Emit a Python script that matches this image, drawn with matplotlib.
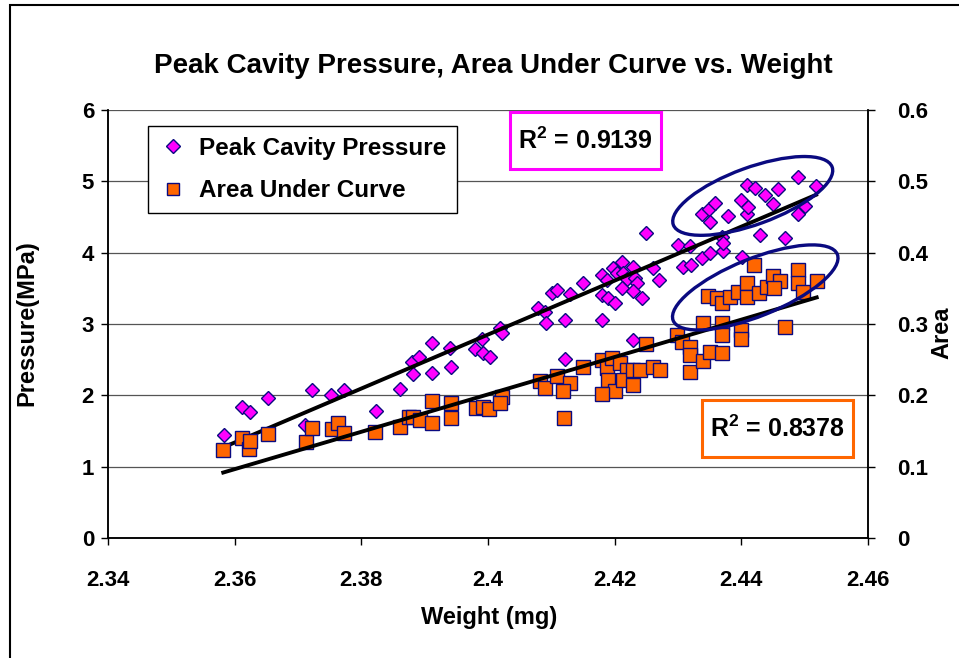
import matplotlib
matplotlib.use('Agg')
import matplotlib.pyplot as plt
import matplotlib.transforms as mtransforms
from matplotlib.patches import Ellipse, Rectangle
from matplotlib.lines import Line2D
import numpy as np

plt.rcParams['font.family'] = ['Liberation Sans', 'DejaVu Sans']
plt.rcParams['font.weight'] = 'bold'
plt.rcParams['mathtext.fontset'] = 'custom'
plt.rcParams['mathtext.bf'] = 'Liberation Sans:bold'
plt.rcParams['mathtext.rm'] = 'Liberation Sans:bold'

# Peak cavity pressure (MPa) vs weight (mg)
pressure_weight = [
    2.3583, 2.3612, 2.3624, 2.3653, 2.3711, 2.3722, 2.3752, 2.3773, 2.3823, 2.3861,
    2.3880, 2.3891, 2.3881, 2.3911, 2.3911, 2.3940, 2.3941, 2.3979, 2.3990, 2.3992,
    2.4003, 2.4019, 2.4022, 2.4079, 2.4090, 2.4091, 2.4101, 2.4109, 2.4121, 2.4121,
    2.4129, 2.4150, 2.4180, 2.4188, 2.4180, 2.4189, 2.4200, 2.4197, 2.4203, 2.4211,
    2.4213, 2.4219, 2.4211, 2.4229, 2.4232, 2.4235, 2.4229, 2.4243, 2.4180, 2.4229,
    2.4249, 2.4260, 2.4270, 2.4300, 2.4319, 2.4308, 2.4320, 2.4338, 2.4350, 2.4371,
    2.4369, 2.4371, 2.4401, 2.4429, 2.4469, 2.4338, 2.4349, 2.4358, 2.4350, 2.4379,
    2.4399, 2.4409, 2.4410, 2.4409, 2.4421, 2.4437, 2.4450, 2.4458, 2.4489, 2.4518,
    2.4500, 2.4489,
]
pressure = [
    1.44, 1.84, 1.77, 1.96, 1.58, 2.07, 2.00, 2.07, 1.78, 2.09,
    2.47, 2.54, 2.30, 2.73, 2.31, 2.66, 2.40, 2.65, 2.79, 2.59,
    2.54, 2.94, 2.87, 3.22, 3.17, 3.01, 3.43, 3.48, 3.06, 2.51,
    3.42, 3.57, 3.69, 3.62, 3.41, 3.37, 3.30, 3.79, 3.72, 3.87,
    3.72, 3.63, 3.50, 3.80, 3.65, 3.57, 3.46, 3.37, 3.06, 2.78,
    4.28, 3.79, 3.62, 4.11, 4.09, 3.80, 3.83, 3.93, 4.00, 4.02,
    4.22, 4.14, 3.94, 4.25, 4.21, 4.54, 4.61, 4.70, 4.43, 4.51,
    4.74, 4.54, 4.64, 4.95, 4.91, 4.81, 4.68, 4.89, 5.06, 4.94,
    4.65, 4.54,
]

# Area under curve vs weight (mg)
area_weight = [
    2.3582, 2.3612, 2.3623, 2.3624, 2.3653, 2.3713, 2.3722, 2.3754, 2.3763, 2.3773,
    2.3821, 2.3861, 2.3875, 2.3881, 2.3893, 2.3911, 2.3911, 2.3941, 2.3941, 2.3981,
    2.3992, 2.4001, 2.4022, 2.4019, 2.4082, 2.4090, 2.4109, 2.4129, 2.4118, 2.4120,
    2.4150, 2.4180, 2.4188, 2.4189, 2.4200, 2.4180, 2.4196, 2.4208, 2.4219, 2.4213,
    2.4229, 2.4229, 2.4240, 2.4260, 2.4271, 2.4249, 2.4298, 2.4306, 2.4319, 2.4319,
    2.4319, 2.4339, 2.4350, 2.4369, 2.4339, 2.4369, 2.4369, 2.4399, 2.4399, 2.4469,
    2.4420, 2.4347, 2.4361, 2.4369, 2.4382, 2.4394, 2.4409, 2.4409, 2.4428, 2.4440,
    2.4450, 2.4461, 2.4451, 2.4489, 2.4489, 2.4497, 2.4519,
]
area = [
    0.123, 0.140, 0.125, 0.136, 0.146, 0.135, 0.154, 0.153, 0.161, 0.147,
    0.149, 0.156, 0.170, 0.170, 0.165, 0.192, 0.161, 0.189, 0.168, 0.182,
    0.184, 0.181, 0.198, 0.189, 0.220, 0.210, 0.227, 0.217, 0.206, 0.168,
    0.240, 0.250, 0.238, 0.222, 0.206, 0.202, 0.252, 0.245, 0.236, 0.222,
    0.215, 0.236, 0.236, 0.240, 0.236, 0.272, 0.285, 0.275, 0.268, 0.257,
    0.233, 0.248, 0.261, 0.259, 0.301, 0.301, 0.285, 0.292, 0.279, 0.296,
    0.383, 0.339, 0.337, 0.330, 0.338, 0.345, 0.358, 0.338, 0.344, 0.352,
    0.367, 0.360, 0.351, 0.376, 0.358, 0.345, 0.360,
]

x_ticks = [2.34, 2.36, 2.38, 2.4, 2.42, 2.44, 2.46]
x_tick_labels = ['2.34', '2.36', '2.38', '2.4', '2.42', '2.44', '2.46']
p_ticks = [0, 1, 2, 3, 4, 5, 6]
a_ticks = [0, 0.1, 0.2, 0.3, 0.4, 0.5, 0.6]
a_tick_labels = ['0', '0.1', '0.2', '0.3', '0.4', '0.5', '0.6']
r2_pressure = '0.9139'
r2_area = '0.8378'

MAGENTA = '#FF00FF'
ORANGE = '#FF6600'
NAVY = '#0A0A80'

fig = plt.figure(figsize=(9.59, 6.58), dpi=100)
ax = fig.add_axes([0.1126, 0.1824, 0.7925, 0.6505])
ax2 = ax.twinx()

# --- pressure series + linear trend ---
ax.plot(pressure_weight, pressure, linestyle='none', marker='D', ms=7.6,
        mfc=MAGENTA, mec=NAVY, mew=1.0, zorder=3)
pw = np.array(pressure_weight)
k, b = np.polyfit(pw, pressure, 1)
xs = np.array([pw.min(), pw.max()])
ax.plot(xs, k * xs + b, color='black', lw=2.8, zorder=4)

# --- area series + linear trend (secondary axis) ---
ax2.plot(area_weight, area, linestyle='none', marker='s', ms=9.5,
         mfc=ORANGE, mec=NAVY, mew=1.0, zorder=3)
aw = np.array(area_weight)
k2, b2 = np.polyfit(aw, area, 1)
xs2 = np.array([aw.min(), aw.max()])
ax2.plot(xs2, k2 * xs2 + b2, color='black', lw=2.8, zorder=4)

ax.set_xlim(2.34, 2.46)
ax.set_ylim(0, 6)
ax2.set_ylim(0, 0.6)
ax.set_xticks(x_ticks)
ax.set_xticklabels(x_tick_labels)
ax.set_yticks(p_ticks)
ax2.set_yticks(a_ticks)
ax2.set_yticklabels(a_tick_labels)
ax.grid(axis='y', color='#555555', lw=0.9)
ax.set_axisbelow(True)

for a_ in (ax, ax2):
    a_.spines['top'].set_visible(False)
    for s in ('left', 'right', 'bottom'):
        a_.spines[s].set_linewidth(1.1)
    a_.tick_params(direction='out', length=5, width=1.0, labelsize=16, pad=5)
ax.tick_params(axis='x', pad=18)
ax2.tick_params(axis='y', pad=16)

# annotation ellipses around the upper clusters
for cx, cy, w_in, h_in, ang in [(2.4418, 4.795, 1.69, 0.57, 20),
                                (2.4422, 3.512, 1.77, 0.575, 22)]:
    tr = fig.dpi_scale_trans + mtransforms.ScaledTranslation(cx, cy, ax.transData)
    ax2.add_patch(Ellipse((0, 0), w_in, h_in, angle=ang, transform=tr,
                          fill=False, ec=NAVY, lw=2.4, zorder=5))

# R^2 boxes
ax2.add_patch(Rectangle((0.529, 0.862), 0.199, 0.133, transform=ax.transAxes,
                        fill=True, fc='white', ec=MAGENTA, lw=2.2, zorder=6))
ax2.text(0.628, 0.929, r'R$^{\mathbf{2}}$ = ' + r2_pressure, transform=ax.transAxes,
         ha='center', va='center', fontsize=18, fontweight='bold', zorder=7)
ax2.add_patch(Rectangle((0.781, 0.1886), 0.1987, 0.134, transform=ax.transAxes,
                        fill=True, fc='white', ec=ORANGE, lw=2.2, zorder=6))
ax2.text(0.8805, 0.2554, r'R$^{\mathbf{2}}$ = ' + r2_area, transform=ax.transAxes,
         ha='center', va='center', fontsize=18, fontweight='bold', zorder=7)

# legend
handles = [
    Line2D([], [], linestyle='none', marker='D', ms=7.6, mfc=MAGENTA, mec=NAVY, mew=1.0),
    Line2D([], [], linestyle='none', marker='s', ms=9.0, mfc=ORANGE, mec=NAVY, mew=1.0),
]
leg = ax2.legend(handles, ['Peak Cavity Pressure', 'Area Under Curve'],
                 loc='upper left', bbox_to_anchor=(0.0526, 0.9626), borderaxespad=0,
                 frameon=True, fancybox=False, edgecolor='black', framealpha=1,
                 prop={'size': 17.5, 'weight': 'bold'}, handlelength=1.2,
                 handletextpad=0.45, labelspacing=0.8, borderpad=0.45)
leg.get_frame().set_linewidth(1.0)
leg.set_zorder(8)

# titles
fig.text(0.514, 0.899, 'Peak Cavity Pressure, Area Under Curve vs. Weight',
         ha='center', va='center', fontsize=20, fontweight='bold')
fig.text(0.51, 0.0608, 'Weight (mg)', ha='center', va='center', fontsize=17, fontweight='bold')
fig.text(0.028, 0.509, 'Pressure(MPa)', ha='center', va='center', rotation=90,
         fontsize=17, fontweight='bold')
fig.text(0.982, 0.494, 'Area', ha='center', va='center', rotation=90,
         fontsize=17, fontweight='bold')

# chart border
fig.patches.append(Rectangle((0.0104, -0.2), 1.5, 1.2 - 0.0076, transform=fig.transFigure,
                             fill=False, ec='black', lw=1.5))

fig.savefig('out.png', dpi=100)
